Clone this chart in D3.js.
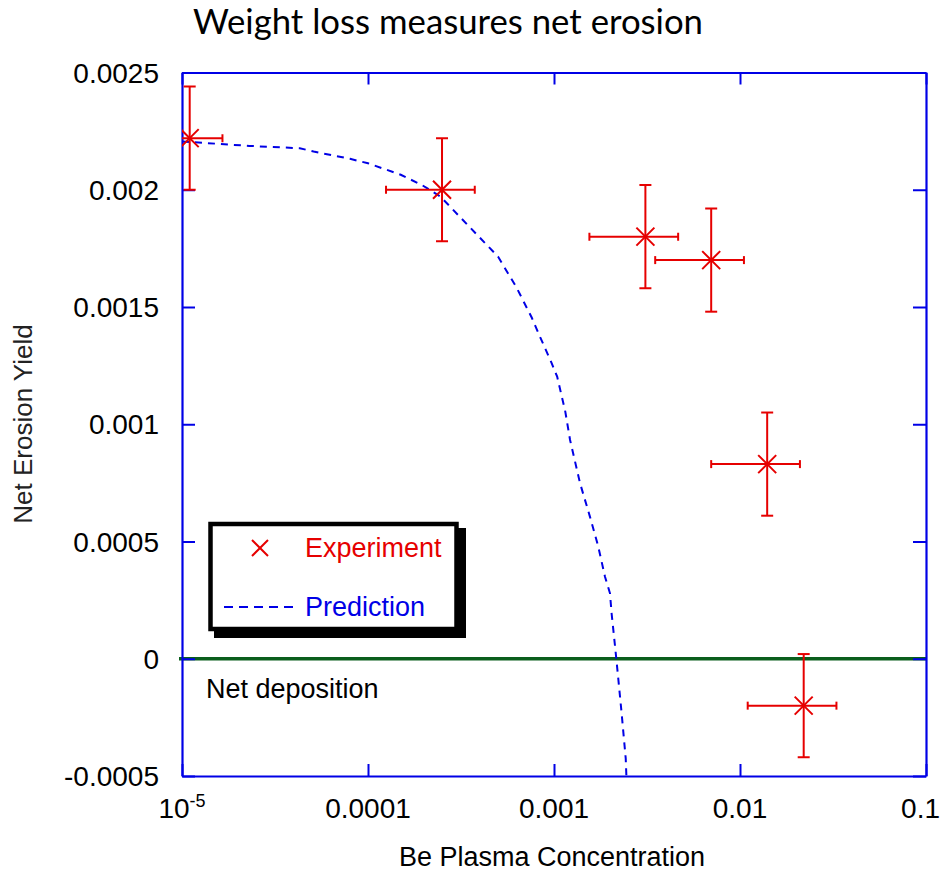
<!DOCTYPE html>
<html>
<head>
<meta charset="utf-8">
<script src="https://cdn.jsdelivr.net/npm/d3@7"></script>
<style>
  html, body { margin: 0; padding: 0; background: #fff; }
  svg { display: block; }
  text { font-family: "Liberation Sans", Arial, sans-serif; }
</style>
</head>
<body>
<svg id="chart" width="942" height="873"></svg>
<script>
// Measured net erosion yield versus Be plasma concentration
const expConc   = [1.1e-5, 2.5e-4, 3.1e-3, 7.0e-3, 1.4e-2, 2.2e-2];
const expYield  = [0.00222, 0.0020, 0.0018, 0.0017, 0.00083, -0.0002];
const expConcErr  = [0.55e-5, 1.25e-4, 1.55e-3, 3.5e-3, 7.0e-3, 1.1e-2];
const expYieldErr = [0.00022, 0.00022, 0.00022, 0.00022, 0.00022, 0.00022];

// Model prediction
const predConc  = [1e-5, 2.3e-5, 4.3e-5, 5.1e-5, 8e-5, 1e-4, 1.5e-4, 1.95e-4, 2.45e-4,
                   3.5e-4, 5e-4, 6.3e-4, 7.6e-4, 8.4e-4, 9.7e-4, 1.04e-3, 1.15e-3,
                   1.22e-3, 1.38e-3, 1.56e-3, 1.73e-3, 1.88e-3, 2.0e-3, 2.04e-3,
                   2.13e-3, 2.22e-3, 2.31e-3, 2.43e-3, 2.45e-3];
const predYield = [0.002206, 0.002187, 0.002177, 0.002163, 0.002132, 0.002113, 0.002064,
                   0.00202, 0.001971, 0.001843, 0.001715, 0.001582, 0.001454, 0.001374,
                   0.001262, 0.001203, 0.001054, 0.000933, 0.000749, 0.000606, 0.000478,
                   0.00035, 0.000279, 0.000194, 0.000052, -0.000091, -0.000233,
                   -0.000425, -0.0005];

// Axis ticks
const xTicks = [1e-5, 1e-4, 1e-3, 1e-2, 1e-1];
const xTickLabels = ["10^-5", "0.0001", "0.001", "0.01", "0.1"];
const yTicks = [-0.0005, 0, 0.0005, 0.001, 0.0015, 0.002, 0.0025];
const yTickLabels = ["-0.0005", "0", "0.0005", "0.001", "0.0015", "0.002", "0.0025"];

const AXIS = "#0000e6", RED = "#e60000", GREEN = "#0a5e1c";

const svg = d3.select("#chart");
const plot = { left: 182, right: 926, top: 72.5, bottom: 776 };

const x = d3.scaleLog().domain([1e-5, 0.1]).range([plot.left, plot.right]);
const y = d3.scaleLinear().domain([-0.0005, 0.0025]).range([plot.bottom, plot.top]);

svg.append("defs").append("clipPath").attr("id", "plotClip")
  .append("rect")
  .attr("x", plot.left).attr("y", plot.top)
  .attr("width", plot.right - plot.left).attr("height", plot.bottom - plot.top);

// Title
const title = svg.append("text")
  .attr("x", 193).attr("y", 34)
  .style("font-family", "Lato, 'Open Sans', sans-serif")
  .style("font-size", "31px")
  .attr("fill", "#000")
  .text("Weight loss measures net erosion");
{
  const w = title.node().getComputedTextLength();
  title.style("font-size", (31 * 510 / w).toFixed(2) + "px");
}

// Zero line (net erosion / net deposition boundary)
svg.append("line")
  .attr("x1", plot.left - 3).attr("x2", plot.right)
  .attr("y1", y(0)).attr("y2", y(0))
  .attr("stroke", GREEN).attr("stroke-width", 3.5);

// Axes with inward ticks on all four sides
const tickLen = 12;
const axB = svg.append("g").attr("transform", `translate(0,${plot.bottom})`)
  .call(d3.axisBottom(x).tickValues(xTicks).tickSizeInner(-tickLen).tickSizeOuter(0).tickFormat(""));
const axT = svg.append("g").attr("transform", `translate(0,${plot.top})`)
  .call(d3.axisTop(x).tickValues(xTicks).tickSizeInner(-tickLen).tickSizeOuter(0).tickFormat(""));
const axL = svg.append("g").attr("transform", `translate(${plot.left},0)`)
  .call(d3.axisLeft(y).tickValues(yTicks).tickSizeInner(-tickLen - 1).tickSizeOuter(0).tickFormat(""));
const axR = svg.append("g").attr("transform", `translate(${plot.right},0)`)
  .call(d3.axisRight(y).tickValues(yTicks).tickSizeInner(-tickLen - 1).tickSizeOuter(0).tickFormat(""));
[axB, axT, axL, axR].forEach(g => {
  g.selectAll("path.domain").attr("stroke", AXIS).attr("stroke-width", 2.2);
  g.selectAll(".tick line").attr("stroke", AXIS).attr("stroke-width", 2);
});

// Y tick labels
svg.append("g").selectAll("text").data(yTicks).join("text")
  .attr("x", 159).attr("y", d => y(d) + 10)
  .attr("text-anchor", "end")
  .style("font-size", "28px").attr("fill", "#000")
  .text((d, i) => yTickLabels[i]);

// X tick labels (the last one is kept inside the page edge)
const xl = svg.append("g").selectAll("text").data(xTicks).join("text")
  .attr("x", (d, i) => i === xTicks.length - 1 ? 940 : x(d)).attr("y", 818)
  .attr("text-anchor", (d, i) => i === xTicks.length - 1 ? "end" : "middle")
  .style("font-size", "28px").attr("fill", "#000");
xl.each(function (d, i) {
  const t = d3.select(this), lab = xTickLabels[i];
  if (lab.includes("^")) {
    const [base, exp] = lab.split("^");
    t.append("tspan").text(base);
    t.append("tspan").attr("dy", -11).style("font-size", "18px").text(exp);
  } else {
    t.text(lab);
  }
});

// Axis titles
svg.append("text")
  .attr("x", 552).attr("y", 866)
  .attr("text-anchor", "middle")
  .style("font-size", "27px").attr("fill", "#000")
  .text("Be Plasma Concentration");
svg.append("text")
  .attr("transform", "translate(32,424) rotate(-90)")
  .attr("text-anchor", "middle")
  .style("font-size", "26px").attr("fill", "#222")
  .text("Net Erosion Yield");

// Annotation under the zero line
svg.append("text")
  .attr("x", 206).attr("y", 698)
  .style("font-size", "27px").attr("fill", "#000")
  .text("Net deposition");

const gData = svg.append("g").attr("clip-path", "url(#plotClip)");

// Prediction curve
const line = d3.line().x(d => x(d[0])).y(d => y(d[1]));
gData.append("path")
  .datum(predConc.map((c, i) => [c, predYield[i]]))
  .attr("d", line)
  .attr("fill", "none")
  .attr("stroke", AXIS).attr("stroke-width", 2)
  .attr("stroke-dasharray", "7,6");

// Experimental points with error bars
const pts = expConc.map((c, i) => ({
  c, v: expYield[i], ce: expConcErr[i], ve: expYieldErr[i]
}));
const capV = 6, capH = 4, mk = 9;
const gp = gData.selectAll("g.pt").data(pts).join("g").attr("class", "pt")
  .attr("stroke", RED).attr("stroke-width", 2).attr("fill", "none");
// vertical bar + caps
gp.append("line")
  .attr("x1", d => x(d.c)).attr("x2", d => x(d.c))
  .attr("y1", d => y(d.v + d.ve)).attr("y2", d => y(d.v - d.ve));
gp.append("line")
  .attr("x1", d => x(d.c) - capV).attr("x2", d => x(d.c) + capV)
  .attr("y1", d => y(d.v + d.ve)).attr("y2", d => y(d.v + d.ve));
gp.append("line")
  .attr("x1", d => x(d.c) - capV).attr("x2", d => x(d.c) + capV)
  .attr("y1", d => y(d.v - d.ve)).attr("y2", d => y(d.v - d.ve));
// horizontal bar + caps
gp.append("line")
  .attr("x1", d => x(d.c - d.ce)).attr("x2", d => x(d.c + d.ce))
  .attr("y1", d => y(d.v)).attr("y2", d => y(d.v));
gp.append("line")
  .attr("x1", d => x(d.c - d.ce)).attr("x2", d => x(d.c - d.ce))
  .attr("y1", d => y(d.v) - capH).attr("y2", d => y(d.v) + capH);
gp.append("line")
  .attr("x1", d => x(d.c + d.ce)).attr("x2", d => x(d.c + d.ce))
  .attr("y1", d => y(d.v) - capH).attr("y2", d => y(d.v) + capH);
// × marker
gp.append("path")
  .attr("d", d => {
    const cx = x(d.c), cy = y(d.v);
    return `M${cx - mk},${cy - mk}L${cx + mk},${cy + mk}M${cx - mk},${cy + mk}L${cx + mk},${cy - mk}`;
  });

// Legend
const lg = svg.append("g");
lg.append("rect").attr("x", 214).attr("y", 528).attr("width", 252).attr("height", 110).attr("fill", "#000");
lg.append("rect").attr("x", 210.5).attr("y", 524).attr("width", 246).attr("height", 105)
  .attr("fill", "#fff").attr("stroke", "#000").attr("stroke-width", 4.5);
lg.append("path")
  .attr("d", "M252,540L268,556M252,556L268,540")
  .attr("stroke", RED).attr("stroke-width", 2).attr("fill", "none");
lg.append("text").attr("x", 305).attr("y", 557).style("font-size", "27px").attr("fill", RED).text("Experiment");
lg.append("line").attr("x1", 224).attr("x2", 299).attr("y1", 607).attr("y2", 607)
  .attr("stroke", AXIS).attr("stroke-width", 2).attr("stroke-dasharray", "9,6");
lg.append("text").attr("x", 305).attr("y", 616).style("font-size", "27px").attr("fill", AXIS).text("Prediction");
</script>
</body>
</html>
